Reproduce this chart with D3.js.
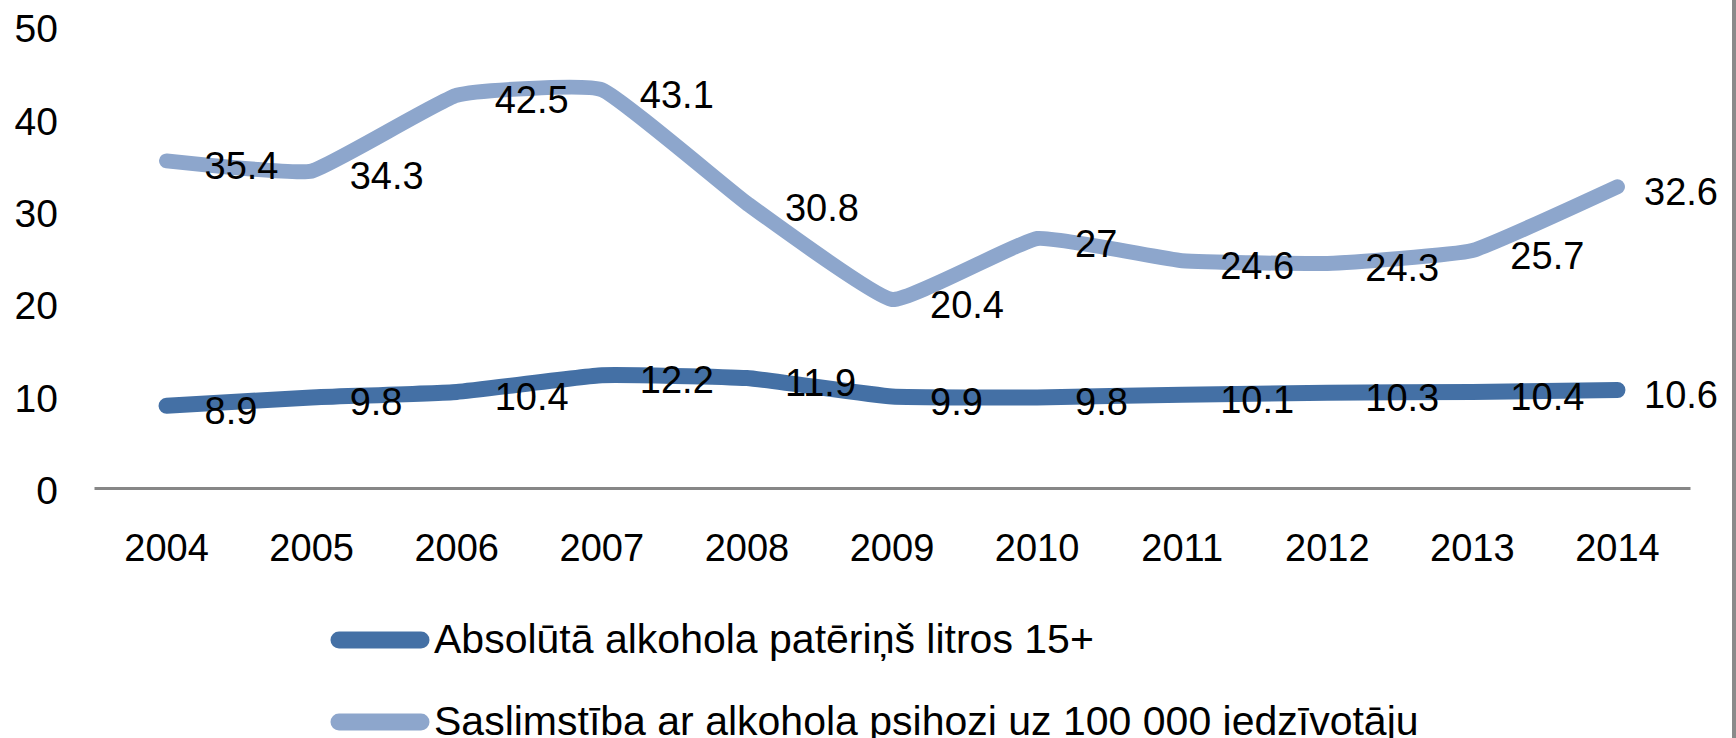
<!DOCTYPE html>
<html>
<head>
<meta charset="utf-8">
<script src="https://cdn.jsdelivr.net/npm/d3@7"></script>
<style>
  html, body { margin: 0; padding: 0; background: #fff; }
  svg text { font-family: "Liberation Sans", Arial, sans-serif; fill: #000; }
</style>
</head>
<body>
<div id="chart"></div>
<script>
//Chart Data
let years = ["2004", "2005", "2006", "2007", "2008", "2009", "2010", "2011", "2012", "2013", "2014"];
let consumption = [8.9, 9.8, 10.4, 12.2, 11.9, 9.9, 9.8, 10.1, 10.3, 10.4, 10.6];
let psychosis = [35.4, 34.3, 42.5, 43.1, 30.8, 20.4, 27, 24.6, 24.3, 25.7, 32.6];
let seriesNames = ["Absolūtā alkohola patēriņš litros 15+", "Saslimstība ar alkohola psihozi uz 100 000 iedzīvotāju"];
let yTicks = [0, 10, 20, 30, 40, 50];

//SVG Size
let svgWidth = 1736;
let svgHeight = 738;

let svg = d3.select("#chart")
  .append("svg")
  .attr("width", svgWidth)
  .attr("height", svgHeight);

//Scales
let xScale = d3.scaleBand()
  .domain(years)
  .range([94, 1690]);
let yScale = d3.scaleLinear()
  .domain([0, 50])
  .range([488, 26]);

let xPos = d => xScale(d) + xScale.bandwidth() / 2;

//Right Border
svg.append("line")
  .attr("x1", 1734).attr("x2", 1734)
  .attr("y1", 0).attr("y2", svgHeight)
  .attr("stroke", "#8a8a8a")
  .attr("stroke-width", 4);

//Y Axis (labels only)
let leftAxis = d3.axisLeft(yScale).tickValues(yTicks).tickSize(0).tickPadding(0);
let yAxisGroup = svg.append("g")
  .attr("transform", "translate(58, 0)")
  .call(leftAxis);
yAxisGroup.select(".domain").remove();
yAxisGroup.selectAll("text")
  .style("font-size", "39px")
  .attr("dy", "0.4em");

//X Axis
let bottomAxis = d3.axisBottom(xScale).tickSize(0).tickSizeOuter(0);
let xAxisGroup = svg.append("g")
  .attr("transform", "translate(0, 488)")
  .call(bottomAxis);
xAxisGroup.select(".domain")
  .attr("stroke", "#878787")
  .attr("stroke-width", 3);
xAxisGroup.selectAll("text")
  .style("font-size", "38px")
  .attr("y", 73)
  .attr("dy", 0);

//Lines
let colors = ["#4470a5", "#8da6cc"];
let widths = [16, 15];
let allSeries = [consumption, psychosis];

let lineGen = d3.line()
  .x((d, i) => xPos(years[i]))
  .y(d => yScale(d))
  .curve(d3.curveCardinal.tension(0.65));

allSeries.forEach(function (values, s) {
  svg.append("path")
    .datum(values)
    .attr("d", lineGen)
    .attr("fill", "none")
    .attr("stroke", colors[s])
    .attr("stroke-width", widths[s])
    .attr("stroke-linecap", "round")
    .attr("stroke-linejoin", "round");
});

//Data Labels (placed right of each point, kept inside the chart)
allSeries.forEach(function (values) {
  svg.selectAll()
    .data(values)
    .enter()
    .append("text")
    .style("font-size", "38px")
    .attr("x", (d, i) => xPos(years[i]) + 38)
    .attr("y", d => yScale(d) + 18)
    .text(d => d)
    .each(function () {
      let w = this.getComputedTextLength();
      let x = +d3.select(this).attr("x");
      if (x + w > 1718) d3.select(this).attr("x", 1718 - w);
    });
});

//Legend
let legend = svg.append("g");
seriesNames.forEach(function (name, s) {
  let cy = 640 + s * 82;
  legend.append("line")
    .attr("x1", 339).attr("x2", 421)
    .attr("y1", cy).attr("y2", cy)
    .attr("stroke", colors[s])
    .attr("stroke-width", 17)
    .attr("stroke-linecap", "round");
  legend.append("text")
    .attr("x", 434)
    .attr("y", cy + 13)
    .style("font-size", "41px")
    .text(name);
});
</script>
</body>
</html>
